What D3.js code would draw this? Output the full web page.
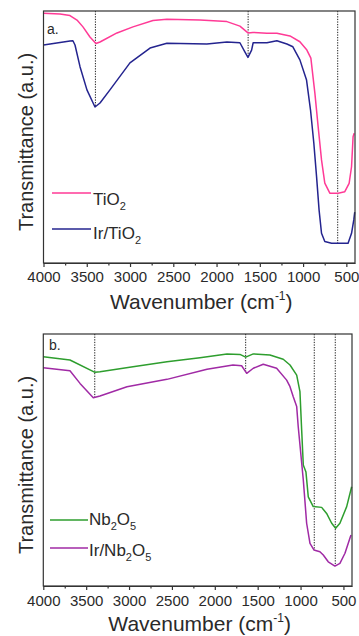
<!DOCTYPE html>
<html><head><meta charset="utf-8">
<script src="https://cdn.jsdelivr.net/npm/d3@7"></script>
<style>body{margin:0;background:#fff;}svg{display:block;font-family:Arial,"Liberation Sans",sans-serif;}</style>
</head><body>
<svg id="c" width="359" height="636"></svg>
<script>
// ---- data (wavenumber cm-1, transmittance a.u.) ----
const tickValues = [4000, 3500, 3000, 2500, 2000, 1500, 1000, 500];
const minorTicks = [3750, 3250, 2750, 2250, 1750, 1250, 750];

const tio2WN  = [4000,3809,3694,3613,3544,3463,3394,3347,3151,2966,2735,2574,2192,1880,1730,1637,1580,1418,1303,1152,1037,956,910,864,826,787,749,691,595,518,468,440,422,410];
const tio2T   = [99.1,98.8,98.2,96.4,93.7,89.7,87.1,87.7,91.3,93.7,96.2,96.7,96.4,95.8,94.0,91.3,91.5,91.2,91.2,90.1,87.8,84.5,81.3,67.5,54.1,40.9,31.7,27.7,27.7,28.3,31.6,38.2,50.1,51.5];

const irtio2WN = [4000,3694,3660,3636,3578,3498,3405,3347,3232,3001,2769,2574,2112,1880,1730,1673,1637,1595,1577,1418,1303,1187,1118,1037,960,914,876,844,815,787,749,671,480,440,414,403];
const irtio2T  = [86.5,88.1,88.2,86.5,77.9,68.7,61.9,63.5,68.7,79.4,85.3,87.2,86.9,87.7,87.4,83.8,81.6,84.5,87.4,87.4,88.2,86.9,85.8,80.6,72.6,60.7,47.6,34.2,21.0,11.8,8.5,7.8,7.8,11.8,17.1,20.2];

const nb2o5WN = [4000,3689,3397,3339,2954,2558,2173,1858,1707,1640,1551,1357,1202,1123,1045,1007,987,968,937,910,852,754,696,637,591,541,462,404];
const nb2o5T  = [91.0,89.7,84.8,85.0,87.0,89.0,90.6,92.1,91.9,90.8,92.1,91.7,90.0,87.7,83.7,77.1,61.9,48.0,45.2,35.4,31.5,31.2,28.8,24.9,22.9,24.9,31.5,39.4];

const irnb2o5WN = [4000,3689,3572,3417,3339,3024,2558,2091,1788,1687,1628,1551,1435,1279,1162,1123,1085,1045,1027,968,929,890,844,774,735,677,599,541,482,412];
const irnb2o5T  = [86.6,85.4,80.4,74.7,75.4,79.1,82.0,86.0,87.7,87.4,84.4,86.4,88.0,86.4,81.7,79.1,75.1,71.2,63.2,42.1,24.9,16.9,14.3,13.6,12.3,9.6,7.9,9.0,13.0,20.2];

const markersA = [3400, 1635, 600];
const markersB = [3400, 1640, 840, 595];

// legend label parts: [text, isSubscript]
const labelTiO2   = [["TiO",false],["2",true]];
const labelIrTiO2 = [["Ir/TiO",false],["2",true]];
const labelNb2O5  = [["Nb",false],["2",true],["O",false],["5",true]];
const labelIrNb2O5= [["Ir/Nb",false],["2",true],["O",false],["5",true]];

const panels = [
  {label:"a.", top:11, bottom:263, left:43.5, right:355, tickBase:282, titleBase:309,
   series:[{parts:labelTiO2,wn:tio2WN,t:tio2T,color:"#ff3a96"},
           {parts:labelIrTiO2,wn:irtio2WN,t:irtio2T,color:"#24248f"}],
   markers:markersA,
   legend:[{ly:193,ty:205,x0:52,x1:91,tx:93},{ly:229,ty:239,x0:52,x1:91,tx:93}],
   labelPos:[47,34]},
  {label:"b.", top:334, bottom:586, left:43.3, right:352, tickBase:606, titleBase:631,
   series:[{parts:labelNb2O5,wn:nb2o5WN,t:nb2o5T,color:"#2e9e2e"},
           {parts:labelIrNb2O5,wn:irnb2o5WN,t:irnb2o5T,color:"#a02aa5"}],
   markers:markersB,
   legend:[{ly:520,ty:525,x0:50,x1:88,tx:89},{ly:548,ty:556,x0:50,x1:88,tx:89}],
   labelPos:[49,350]}
];

const svg = d3.select("#c");
const textColor = "#2a2a2a";

function interp(wnArr, tArr, w){
  for(let i=0;i<wnArr.length-1;i++){
    const a=wnArr[i], b=wnArr[i+1];
    if((w<=a && w>=b)){ const f=(a-w)/(a-b); return tArr[i]+f*(tArr[i+1]-tArr[i]); }
  }
  return tArr[tArr.length-1];
}

panels.forEach(p=>{
  const x = d3.scaleLinear().domain([4000,400]).range([p.left,p.right]);
  const y = d3.scaleLinear().domain([0,100]).range([p.bottom,p.top]);
  const g = svg.append("g");

  const low = p.series[1];
  p.markers.forEach(m=>{
    g.append("line").attr("x1",x(m)).attr("x2",x(m))
      .attr("y1",p.top).attr("y2",y(interp(low.wn,low.t,m)))
      .attr("stroke","#222").attr("stroke-width",1).attr("stroke-dasharray","1.3,1.3");
  });

  const line = d3.line().x(d=>x(d[0])).y(d=>y(d[1]));
  p.series.forEach(s=>{
    const pts = s.wn.map((w,i)=>[w,s.t[i]]);
    g.append("path").datum(pts).attr("d",line).attr("fill","none")
      .attr("stroke",s.color).attr("stroke-width",1.5).attr("stroke-linejoin","round");
  });

  g.append("rect").attr("x",p.left).attr("y",p.top).attr("width",p.right-p.left).attr("height",p.bottom-p.top)
    .attr("fill","none").attr("stroke","#333").attr("stroke-width",1.2);

  const ax = d3.axisBottom(x).tickValues(tickValues).tickFormat(d3.format("d")).tickSize(4).tickSizeOuter(0).tickPadding(4);
  const axg = g.append("g").attr("transform",`translate(0,${p.bottom})`).call(ax);
  axg.select(".domain").attr("stroke","#333").attr("stroke-width",1.2);
  axg.selectAll(".tick line").attr("stroke","#333").attr("stroke-width",1.2);
  axg.selectAll(".tick text").attr("font-size",15).attr("fill",textColor)
    .attr("font-family","Arial,'Liberation Sans',sans-serif").attr("dy",null).attr("y",p.tickBase-p.bottom);
  const minor = d3.axisBottom(x).tickValues(minorTicks).tickSize(2.5).tickFormat("");
  const mg = g.append("g").attr("transform",`translate(0,${p.bottom})`).call(minor);
  mg.select(".domain").remove();
  mg.selectAll(".tick line").attr("stroke","#333").attr("stroke-width",1.2);

  const xt = g.append("text").attr("x",(p.left+p.right)/2+2).attr("y",p.titleBase)
    .attr("text-anchor","middle").attr("font-size",21).attr("fill",textColor);
  xt.append("tspan").text("Wavenumber (cm");
  xt.append("tspan").text("-1").attr("font-size",12).attr("dy",-9);
  xt.append("tspan").text(")").attr("dy",9);

  g.append("text").attr("transform",`translate(33,${(p.top+p.bottom)/2+5}) rotate(-90)`)
    .attr("text-anchor","middle").attr("font-size",20).attr("fill",textColor)
    .text("Transmittance (a.u.)");

  g.append("text").attr("x",p.labelPos[0]).attr("y",p.labelPos[1]).attr("font-size",14)
    .attr("fill",textColor).text(p.label);

  p.series.forEach((s,i)=>{
    const L = p.legend[i];
    g.append("line").attr("x1",L.x0).attr("x2",L.x1).attr("y1",L.ly).attr("y2",L.ly)
      .attr("stroke",s.color).attr("stroke-width",1.5);
    const t = g.append("text").attr("x",L.tx).attr("y",L.ty).attr("font-size",17).attr("fill",textColor);
    let sub=false;
    s.parts.forEach(([txt,isSub])=>{
      const dy = isSub===sub ? 0 : (isSub ? 5 : -5);
      const ts = t.append("tspan").text(txt).attr("dy",dy);
      if(isSub) ts.attr("font-size",11);
      sub = isSub;
    });
  });
});
</script>
</body></html>
